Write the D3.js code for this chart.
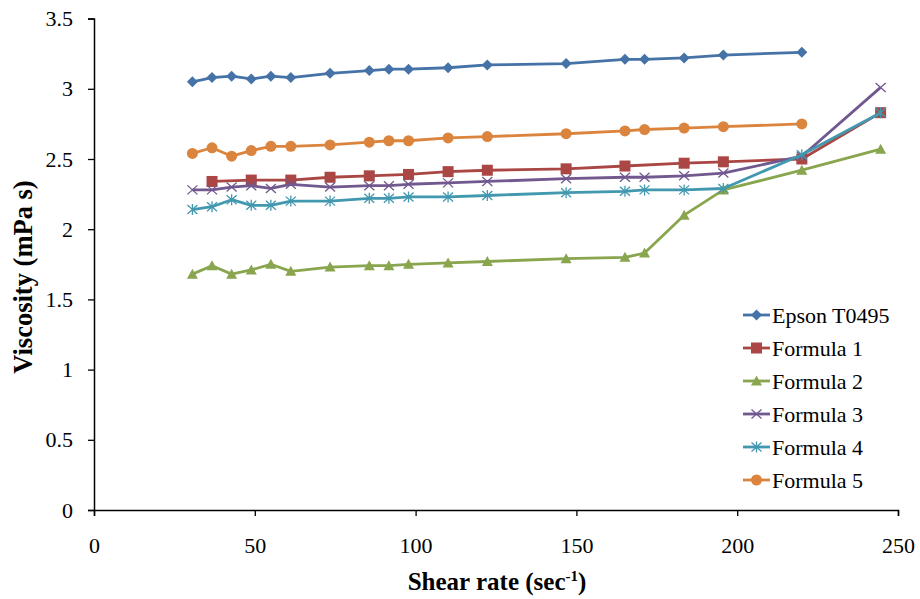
<!DOCTYPE html>
<html>
<head>
<meta charset="utf-8">
<script src="https://cdn.jsdelivr.net/npm/d3@7/dist/d3.min.js"></script>
<style>
  html, body { margin: 0; padding: 0; background: #fff; }
  svg { display: block; }
</style>
</head>
<body>
<svg id="chart" width="920" height="599"></svg>
<script>
// Shear rates (sec^-1) for each measurement
const shearRates = [30.6, 36.7, 42.8, 48.9, 55.0, 61.2, 73.4, 85.6, 91.7, 97.8,
                    110.1, 122.3, 146.8, 165.1, 171.2, 183.5, 195.7, 220.1, 244.6];
const rates18 = shearRates.slice(0, 18);
const ratesF1 = [36.7, 48.9, 61.2, 73.4, 85.6, 97.8, 110.1, 122.3, 146.8, 165.1, 183.5, 195.7, 220.1, 244.6];

// Viscosity (mPa s)
const epson = [3.05, 3.08, 3.09, 3.07, 3.09, 3.08, 3.11, 3.13, 3.14, 3.14, 3.15, 3.17, 3.18, 3.21, 3.21, 3.22, 3.24, 3.26];
const formula1 = [2.34, 2.35, 2.35, 2.37, 2.38, 2.39, 2.41, 2.42, 2.43, 2.45, 2.47, 2.48, 2.50, 2.83];
const formula2 = [1.68, 1.74, 1.68, 1.71, 1.75, 1.70, 1.73, 1.74, 1.74, 1.75, 1.76, 1.77, 1.79, 1.80, 1.83, 2.10, 2.28, 2.42, 2.57];
const formula3 = [2.28, 2.28, 2.30, 2.31, 2.29, 2.32, 2.30, 2.31, 2.31, 2.32, 2.33, 2.34, 2.36, 2.37, 2.37, 2.38, 2.40, 2.52, 3.01];
const formula4 = [2.14, 2.16, 2.21, 2.17, 2.17, 2.20, 2.20, 2.22, 2.22, 2.23, 2.23, 2.24, 2.26, 2.27, 2.28, 2.28, 2.29, 2.53, 2.83];
const formula5 = [2.54, 2.58, 2.52, 2.56, 2.59, 2.59, 2.60, 2.62, 2.63, 2.63, 2.65, 2.66, 2.68, 2.70, 2.71, 2.72, 2.73, 2.75];

const seriesNames = ["Epson T0495", "Formula 1", "Formula 2", "Formula 3", "Formula 4", "Formula 5"];
const seriesRates = [rates18, ratesF1, shearRates, shearRates, shearRates, rates18];
const seriesValues = [epson, formula1, formula2, formula3, formula4, formula5];
const seriesColors = ["#4572A7", "#AA4643", "#89A54E", "#71588F", "#4198AF", "#DB843D"];
const seriesMarkers = ["diamond", "square", "triangle", "cross", "asterisk", "circle"];

const xTicks = [0, 50, 100, 150, 200, 250];
const yTicks = [0, 0.5, 1, 1.5, 2, 2.5, 3, 3.5];

const FONT = "Liberation Serif";
const svg = d3.select("#chart");
const plotLeft = 94, plotRight = 898, plotTop = 18.6, plotBottom = 510;

const x = d3.scaleLinear().domain([0, 250]).range([plotLeft, plotRight]);
const y = d3.scaleLinear().domain([0, 3.5]).range([plotBottom, plotTop]);

// Axes
const xAxis = svg.append("g").attr("transform", `translate(0,${plotBottom})`)
  .call(d3.axisBottom(x).tickValues(xTicks).tickSize(6).tickPadding(21).tickFormat(d3.format("")));
const yAxis = svg.append("g").attr("transform", `translate(${plotLeft},0)`)
  .call(d3.axisLeft(y).tickValues(yTicks).tickSize(6).tickPadding(15).tickFormat(d3.format("")));
[xAxis, yAxis].forEach(a => {
  a.attr("font-family", FONT).attr("font-size", 22);
  a.select(".domain").attr("stroke", "#000").attr("stroke-width", 1.5);
  a.selectAll(".tick line").attr("stroke", "#000").attr("stroke-width", 1.3);
  a.selectAll(".tick text").attr("fill", "#000").attr("font-family", FONT);
});

// Axis titles
svg.append("text")
  .attr("x", 497).attr("y", 590)
  .attr("text-anchor", "middle")
  .attr("font-family", FONT)
  .attr("font-size", 25).attr("font-weight", "bold")
  .html('Shear rate (sec<tspan dy="-9" font-size="15">-1</tspan><tspan dy="9">)</tspan>');

svg.append("text")
  .attr("transform", "translate(32,277) rotate(-90)")
  .attr("text-anchor", "middle")
  .attr("font-family", FONT)
  .attr("font-size", 26.5).attr("font-weight", "bold")
  .text("Viscosity (mPa s)");

// Marker drawing
function drawMarker(g, type, color) {
  switch (type) {
    case "diamond":
      g.append("path").attr("d", "M0,-5.5L5.5,0L0,5.5L-5.5,0Z").attr("fill", color);
      break;
    case "square":
      g.append("rect").attr("x", -5.5).attr("y", -5.5).attr("width", 11).attr("height", 11).attr("fill", color);
      break;
    case "triangle":
      g.append("path").attr("d", "M0,-5.5L5.5,4.5L-5.5,4.5Z").attr("fill", color);
      break;
    case "cross":
      g.append("path").attr("d", "M-5,-4.5L5,4.5M-5,4.5L5,-4.5").attr("stroke", color).attr("stroke-width", 1.3).attr("fill", "none");
      break;
    case "asterisk":
      g.append("path").attr("d", "M-5,-4.5L5,4.5M-5,4.5L5,-4.5M0,-5.5L0,5.5").attr("stroke", color).attr("stroke-width", 1.3).attr("fill", "none");
      break;
    case "circle":
      g.append("circle").attr("r", 5.5).attr("fill", color);
      break;
  }
}

const line = d3.line().x(d => x(d[0])).y(d => y(d[1]));

seriesNames.forEach((name, i) => {
  const pts = seriesRates[i].map((r, j) => [r, seriesValues[i][j]]);
  const g = svg.append("g").attr("class", "series");
  g.append("path").datum(pts)
    .attr("d", line)
    .attr("fill", "none")
    .attr("stroke", seriesColors[i])
    .attr("stroke-width", 2.8)
    .attr("stroke-linejoin", "round");
  pts.forEach(p => {
    const m = g.append("g").attr("transform", `translate(${x(p[0])},${y(p[1])})`);
    drawMarker(m, seriesMarkers[i], seriesColors[i]);
  });
});

// Legend
const legend = svg.append("g").attr("transform", "translate(743,315)");
seriesNames.forEach((name, i) => {
  const row = legend.append("g").attr("transform", `translate(0,${i * 33})`);
  row.append("line").attr("x1", 0).attr("x2", 27).attr("y1", 0).attr("y2", 0)
    .attr("stroke", seriesColors[i]).attr("stroke-width", 2.8);
  const m = row.append("g").attr("transform", "translate(13.5,0)");
  drawMarker(m, seriesMarkers[i], seriesColors[i]);
  row.append("text").attr("x", 29).attr("y", 7.5)
    .attr("font-family", FONT)
    .attr("font-size", 22).attr("fill", "#000").text(name);
});
</script>
</body>
</html>
